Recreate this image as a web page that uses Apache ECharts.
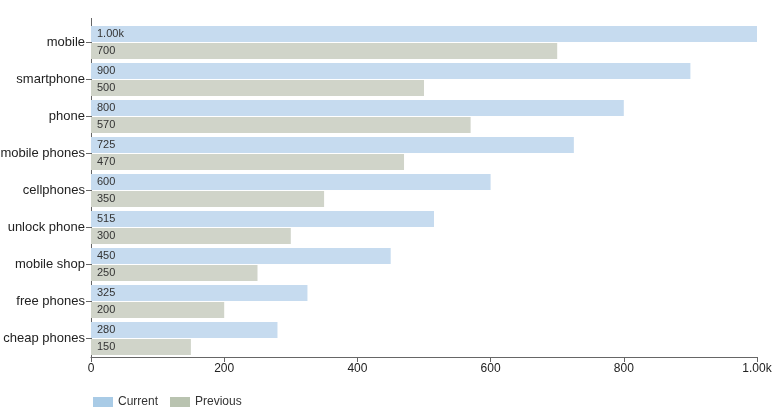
<!DOCTYPE html>
<html>
<head>
<meta charset="utf-8">
<script src="https://cdn.jsdelivr.net/npm/echarts@6/dist/echarts.min.js"></script>
<style>
html,body{margin:0;padding:0;background:#fff;}
#chart{width:777px;height:420px;}
</style>
</head>
<body>
<div id="chart"></div>
<script>
var categories = ['mobile','smartphone','phone','mobile phones','cellphones','unlock phone','mobile shop','free phones','cheap phones'];
var currentValues = [1000, 900, 800, 725, 600, 515, 450, 325, 280];
var previousValues = [700, 500, 570, 470, 350, 300, 250, 200, 150];
var xTicks = [0, 200, 400, 600, 800, 1000];

function fmt(v){
  return v >= 1000 ? (v/1000).toFixed(2) + 'k' : String(v);
}

var chart = echarts.init(document.getElementById('chart'));
var FONT = '"Liberation Sans", Arial, sans-serif';
chart.setOption({
  animation: false,
  textStyle: {fontFamily: FONT},
  grid: {left: 91, right: 20, top: 24, bottom: 63, containLabel: false, outerBoundsMode: 'none'},
  legend: {
    left: 88, bottom: 7,
    itemWidth: 20, itemHeight: 10, itemGap: 12,
    icon: 'rect',
    textStyle: {fontSize: 12, color: '#333', fontFamily: FONT},
    data: [
      {name: 'Current', itemStyle: {color: '#a9cbe6'}},
      {name: 'Previous', itemStyle: {color: '#b9c3b0'}}
    ]
  },
  xAxis: {
    type: 'value', min: xTicks[0], max: xTicks[xTicks.length-1], interval: 200,
    axisLine: {show: true, lineStyle: {color: '#666'}},
    axisTick: {show: true, length: 5, lineStyle: {color: '#666'}},
    splitLine: {show: false},
    axisLabel: {fontSize: 12, color: '#222', margin: 6, formatter: fmt, fontFamily: FONT}
  },
  yAxis: {
    type: 'category', data: categories, inverse: true,
    axisLine: {show: true, lineStyle: {color: '#666'}},
    axisTick: {show: true, length: 5, alignWithLabel: true, lineStyle: {color: '#666'}},
    axisLabel: {fontSize: 13, color: '#222', margin: 6, fontFamily: FONT}
  },
  graphic: [{
    type: 'line', shape: {x1: 91.5, y1: 18, x2: 91.5, y2: 24},
    style: {stroke: '#666', lineWidth: 1}
  }],
  series: [
    {
      name: 'Current', type: 'bar', data: currentValues,
      barWidth: 16, barGap: '6%',
      itemStyle: {color: '#c6dbef'},
      label: {show: true, position: 'insideLeft', distance: 6, fontSize: 11, color: '#333', formatter: function(p){return fmt(p.value);}, fontFamily: FONT}
    },
    {
      name: 'Previous', type: 'bar', data: previousValues,
      barWidth: 16,
      itemStyle: {color: '#d0d4c9'},
      label: {show: true, position: 'insideLeft', distance: 6, fontSize: 11, color: '#333', formatter: function(p){return fmt(p.value);}, fontFamily: FONT}
    }
  ]
});
</script>
</body>
</html>
